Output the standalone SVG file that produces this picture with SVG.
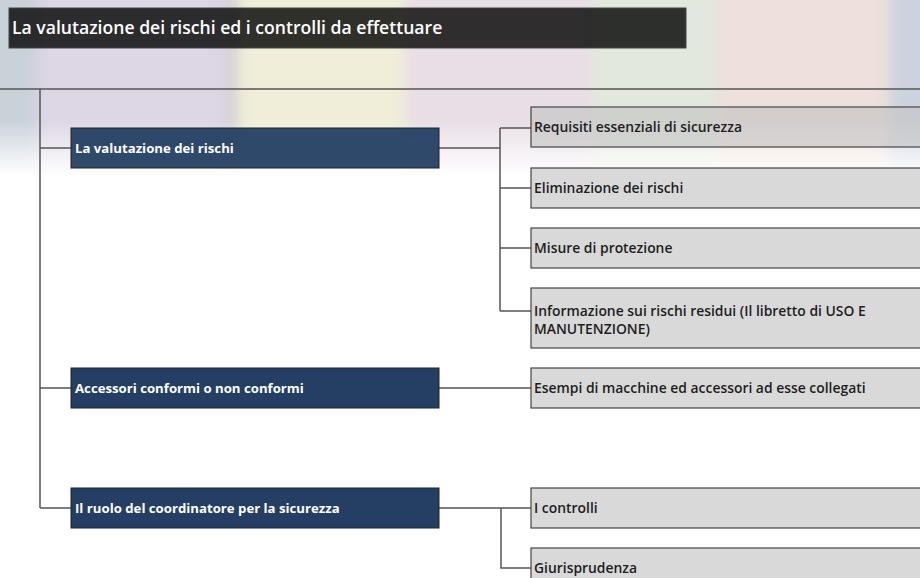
<svg xmlns="http://www.w3.org/2000/svg" width="920" height="578" viewBox="0 0 920 578">
<defs>
  <filter id="blur" x="-5%" y="-5%" width="110%" height="110%"><feGaussianBlur stdDeviation="7"/></filter>
  <linearGradient id="fade" x1="0" y1="0" x2="0" y2="1" gradientUnits="objectBoundingBox">
    <stop offset="0" stop-color="#fff"/>
    <stop offset="0.68" stop-color="#fff"/>
    <stop offset="1" stop-color="#000"/>
  </linearGradient>
  <mask id="bgmask" maskUnits="userSpaceOnUse" x="0" y="0" width="920" height="180">
    <rect x="0" y="0" width="920" height="176" fill="url(#fade)"/>
  </mask>
  <style>
    .title { font-family: "Open Sans", "Liberation Sans", sans-serif; font-size: 17.6px; font-weight: 600; fill: #ffffff; }
    .l1 { fill: #243f63; stroke: #222; stroke-width: 1; }
    .l1t { font-family: "Open Sans", "Liberation Sans", sans-serif; font-size: 13.2px; font-weight: bold; fill: #ffffff; }
    .l2 { fill: #c4c4c4; fill-opacity: 0.65; stroke: #444; stroke-width: 1.2; }
    .l2t { font-family: "Open Sans", "Liberation Sans", sans-serif; font-size: 13.9px; font-weight: 600; fill: #1e1e1e; }
    .conn { fill: none; stroke: #555; stroke-width: 1.5; }
  </style>
</defs>
<rect width="920" height="578" fill="#ffffff"/>
<g id="background" mask="url(#bgmask)">
  <g filter="url(#blur)">
    <rect x="-20" y="-20" width="58" height="220" fill="#c9d1d9"/>
    <rect x="38" y="-20" width="194" height="220" fill="#ddd6e5"/>
    <rect x="226" y="-20" width="12" height="220" fill="#d3cfd4"/>
    <rect x="238" y="-20" width="167" height="220" fill="#f0eed8"/>
    <rect x="405" y="-20" width="188" height="220" fill="#e8dee6"/>
    <rect x="593" y="-20" width="123" height="220" fill="#e2e8dc"/>
    <rect x="716" y="-20" width="173" height="220" fill="#eee0db"/>
    <rect x="889" y="-20" width="51" height="220" fill="#ccd3de"/>
  </g>
</g>
<g id="title">
  <rect x="9" y="8" width="677" height="40" fill="#000000" fill-opacity="0.8" stroke="#444" stroke-width="1"/>
  <text class="title" x="12" y="34">La valutazione dei rischi ed i controlli da effettuare</text>
</g>
<g id="connectors">
  <path class="conn" d="M0 89H920"/>
  <path class="conn" d="M40 89V508"/>
  <path class="conn" d="M40 148H71M40 388H71M40 508H71"/>
  <path class="conn" d="M439 148H500M500 128V311M500 128H531M500 188H531M500 248H531M500 311H531"/>
  <path class="conn" d="M439 388H531"/>
  <path class="conn" d="M439 508H531M501 508V568H531"/>
</g>
<g id="n-valutazione">
  <rect class="l1" x="71" y="128" width="368" height="40" fill-opacity="0.95"/>
  <text class="l1t" x="75" y="153">La valutazione dei rischi</text>
</g>
<g id="n-accessori">
  <rect class="l1" x="71" y="368" width="368" height="40"/>
  <text class="l1t" x="75" y="393">Accessori conformi o non conformi</text>
</g>
<g id="n-ruolo">
  <rect class="l1" x="71" y="488" width="368" height="40"/>
  <text class="l1t" x="75" y="513">Il ruolo del coordinatore per la sicurezza</text>
</g>
<g id="n-requisiti">
  <rect class="l2" x="531" y="107" width="400" height="40"/>
  <text class="l2t" x="534" y="132">Requisiti essenziali di sicurezza</text>
</g>
<g id="n-eliminazione">
  <rect class="l2" x="531" y="168" width="400" height="40"/>
  <text class="l2t" x="534" y="193">Eliminazione dei rischi</text>
</g>
<g id="n-misure">
  <rect class="l2" x="531" y="228" width="400" height="40"/>
  <text class="l2t" x="534" y="253">Misure di protezione</text>
</g>
<g id="n-informazione">
  <rect class="l2" x="531" y="288" width="400" height="60"/>
  <text class="l2t" x="534" y="316">Informazione sui rischi residui (Il libretto di USO E</text>
  <text class="l2t" x="534" y="334">MANUTENZIONE)</text>
</g>
<g id="n-esempi">
  <rect class="l2" x="531" y="368" width="400" height="40"/>
  <text class="l2t" x="534" y="393">Esempi di macchine ed accessori ad esse collegati</text>
</g>
<g id="n-controlli">
  <rect class="l2" x="531" y="488" width="400" height="40"/>
  <text class="l2t" x="534" y="513">I controlli</text>
</g>
<g id="n-giurisprudenza">
  <rect class="l2" x="531" y="548" width="400" height="40"/>
  <text class="l2t" x="534" y="573">Giurisprudenza</text>
</g>
</svg>
